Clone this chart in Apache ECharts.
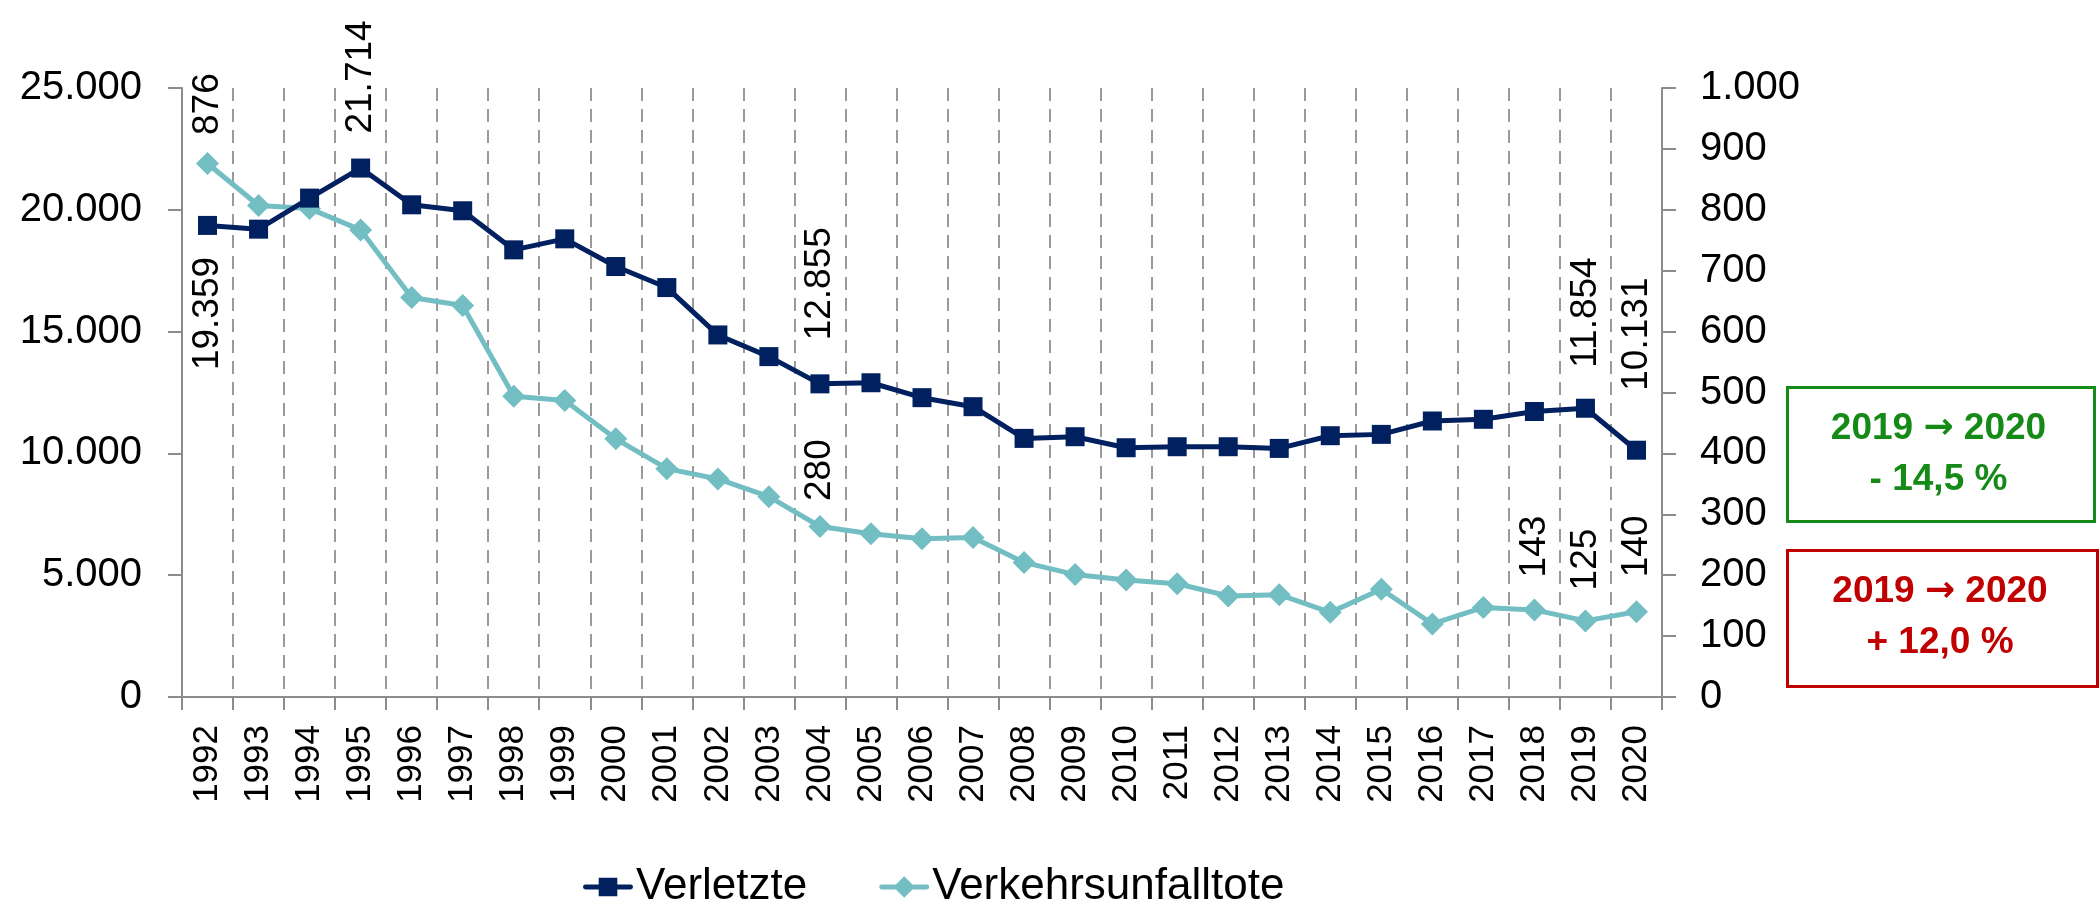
<!DOCTYPE html>
<html>
<head>
<meta charset="utf-8">
<script src="https://cdn.jsdelivr.net/npm/echarts@6/dist/echarts.min.js"></script>
<style>
html,body{margin:0;padding:0;background:#fff;}
#chart{width:2100px;height:914px;}
</style>
</head>
<body>
<div id="chart"></div>
<script>
var years = ['1992','1993','1994','1995','1996','1997','1998','1999','2000','2001','2002','2003','2004','2005','2006','2007','2008','2009','2010','2011','2012','2013','2014','2015','2016','2017','2018','2019','2020'];
var verletzte = [19359,19205,20480,21714,20205,19960,18356,18808,17671,16808,14863,13973,12855,12900,12288,11918,10616,10685,10233,10274,10274,10205,10726,10781,11330,11400,11720,11854,10131];
var tote = [876,807,802,767,656,643,494,487,424,375,358,329,280,268,260,262,221,201,192,186,166,168,139,177,120,147,143,125,140];
var leftTicks = [0,5000,10000,15000,20000,25000];
var rightTicks = [0,100,200,300,400,500,600,700,800,900,1000];

// welche Punkte eine Beschriftung bekommen
var labelVerletzte = ['1992','1995','2004','2019','2020'];
var labelTote = ['1992','2004','2018','2019','2020'];

var font = "'Liberation Sans',Arial,sans-serif";

function fmt(v){
	return String(v).replace(/\B(?=(\d{3})+(?!\d))/g,'.');
}

//Beschriftungen: gedreht, ueber bzw. unter dem Punkt
function buildData(values,show,below,dist){
	return values.map(function(v,i){
		var y = years[i];
		if(show.indexOf(y) < 0) return v;
		var isBelow = below.indexOf(y) >= 0;
		return {
			value:v,
			label:{
				show:true,
				rotate:90,
				position:isBelow ? 'bottom' : 'top',
				align:isBelow ? 'right' : 'left',
				verticalAlign:'middle',
				distance:dist[y] || 20,
				fontFamily:font,
				fontSize:37,
				color:'#000',
				formatter:function(p){return fmt(p.value);}
			}
		};
	});
}

//Legenden-Symbole: dicke Linie mit Quadrat bzw. Raute
var iconRect = 'path://M2,8.5 H48 A2.5,2.5 0 0 1 48,13.5 H2 A2.5,2.5 0 0 1 2,8.5 Z M15.5,1.5 H34.5 V20.5 H15.5 Z';
var iconDiamond = 'path://M2,8.5 H48 A2.5,2.5 0 0 1 48,13.5 H2 A2.5,2.5 0 0 1 2,8.5 Z M25,0 L36,11 L25,22 L14,11 Z';

function box(color,y0,w,h,pct){
	var rich = {
		a:{fontFamily:font,fontWeight:'bold',fontSize:37,fill:color,color:color},
		b:{fontFamily:"'DejaVu Sans',sans-serif",fontWeight:'bold',fontSize:36,color:color}
	};
	return [
		{type:'rect',left:1785,top:y0,shape:{width:w,height:h},style:{fill:'none',stroke:color,lineWidth:3}},
		{type:'text',x:1785+w/2,y:y0+44,style:{text:'{a|2019 }{b|\u2192}{a| 2020}',rich:rich,fill:color,align:'center',verticalAlign:'middle'}},
		{type:'text',x:1785+w/2,y:y0+95,style:{text:pct,fill:color,font:'bold 37px '+font,align:'center',verticalAlign:'middle'}}
	];
}

var chart = echarts.init(document.getElementById('chart'));

var option = {
	animation:false,
	backgroundColor:'#fff',
	grid:{left:182,right:438,top:88,bottom:217,containLabel:false,outerBoundsMode:'none'},
	legend:{
		top:860,
		left:578,
		itemWidth:50,
		itemHeight:22,
		itemGap:72,
		textStyle:{fontFamily:font,fontSize:44,color:'#000',padding:[0,0,0,-2]},
		data:[{name:'Verletzte',icon:iconRect},{name:'Verkehrsunfalltote',icon:iconDiamond}]
	},
	xAxis:{
		type:'category',
		data:years,
		boundaryGap:true,
		axisLine:{lineStyle:{color:'#8c8c8c',width:2}},
		axisTick:{show:true,interval:0,length:13,lineStyle:{color:'#8c8c8c',width:2}},
		axisLabel:{interval:0,rotate:90,margin:28,fontFamily:font,fontSize:35,color:'#000'},
		splitLine:{show:true,interval:0,lineStyle:{color:'#9a9a9a',width:2,type:[13,8]}}
	},
	yAxis:[
		{
			type:'value',
			min:leftTicks[0],
			max:leftTicks[leftTicks.length-1],
			interval:5000,
			position:'left',
			axisLine:{show:true,lineStyle:{color:'#8c8c8c',width:2}},
			axisTick:{show:true,inside:false,length:14,lineStyle:{color:'#8c8c8c',width:2}},
			axisLabel:{margin:40,fontFamily:font,fontSize:40,color:'#000',formatter:fmt},
			splitLine:{show:false}
		},
		{
			type:'value',
			min:rightTicks[0],
			max:rightTicks[rightTicks.length-1],
			interval:100,
			position:'right',
			axisLine:{show:true,lineStyle:{color:'#8c8c8c',width:2}},
			axisTick:{show:true,inside:false,length:14,lineStyle:{color:'#8c8c8c',width:2}},
			axisLabel:{margin:38,fontFamily:font,fontSize:40,color:'#000',formatter:fmt},
			splitLine:{show:false}
		}
	],
	series:[
		{
			name:'Verletzte',
			type:'line',
			yAxisIndex:0,
			symbol:'rect',
			symbolSize:19,
			color:'#002060',
			lineStyle:{width:5,color:'#002060'},
			itemStyle:{color:'#002060'},
			z:3,
			data:buildData(verletzte,labelVerletzte,['1992'],{'1992':22,'1995':25,'2004':34,'2019':31,'2020':50})
		},
		{
			name:'Verkehrsunfalltote',
			type:'line',
			yAxisIndex:1,
			symbol:'diamond',
			symbolSize:23,
			color:'#72bec3',
			lineStyle:{width:5,color:'#72bec3'},
			itemStyle:{color:'#72bec3'},
			z:2,
			data:buildData(tote,labelTote,[],{'1992':17,'2004':14,'2018':21,'2019':19,'2020':23})
		}
	],
	graphic:[].concat(
		box('#168a16',385,307,134,'- 14,5 %'),
		box('#c00000',548,310,136,'+ 12,0 %')
	)
};

chart.setOption(option);
</script>
</body>
</html>
